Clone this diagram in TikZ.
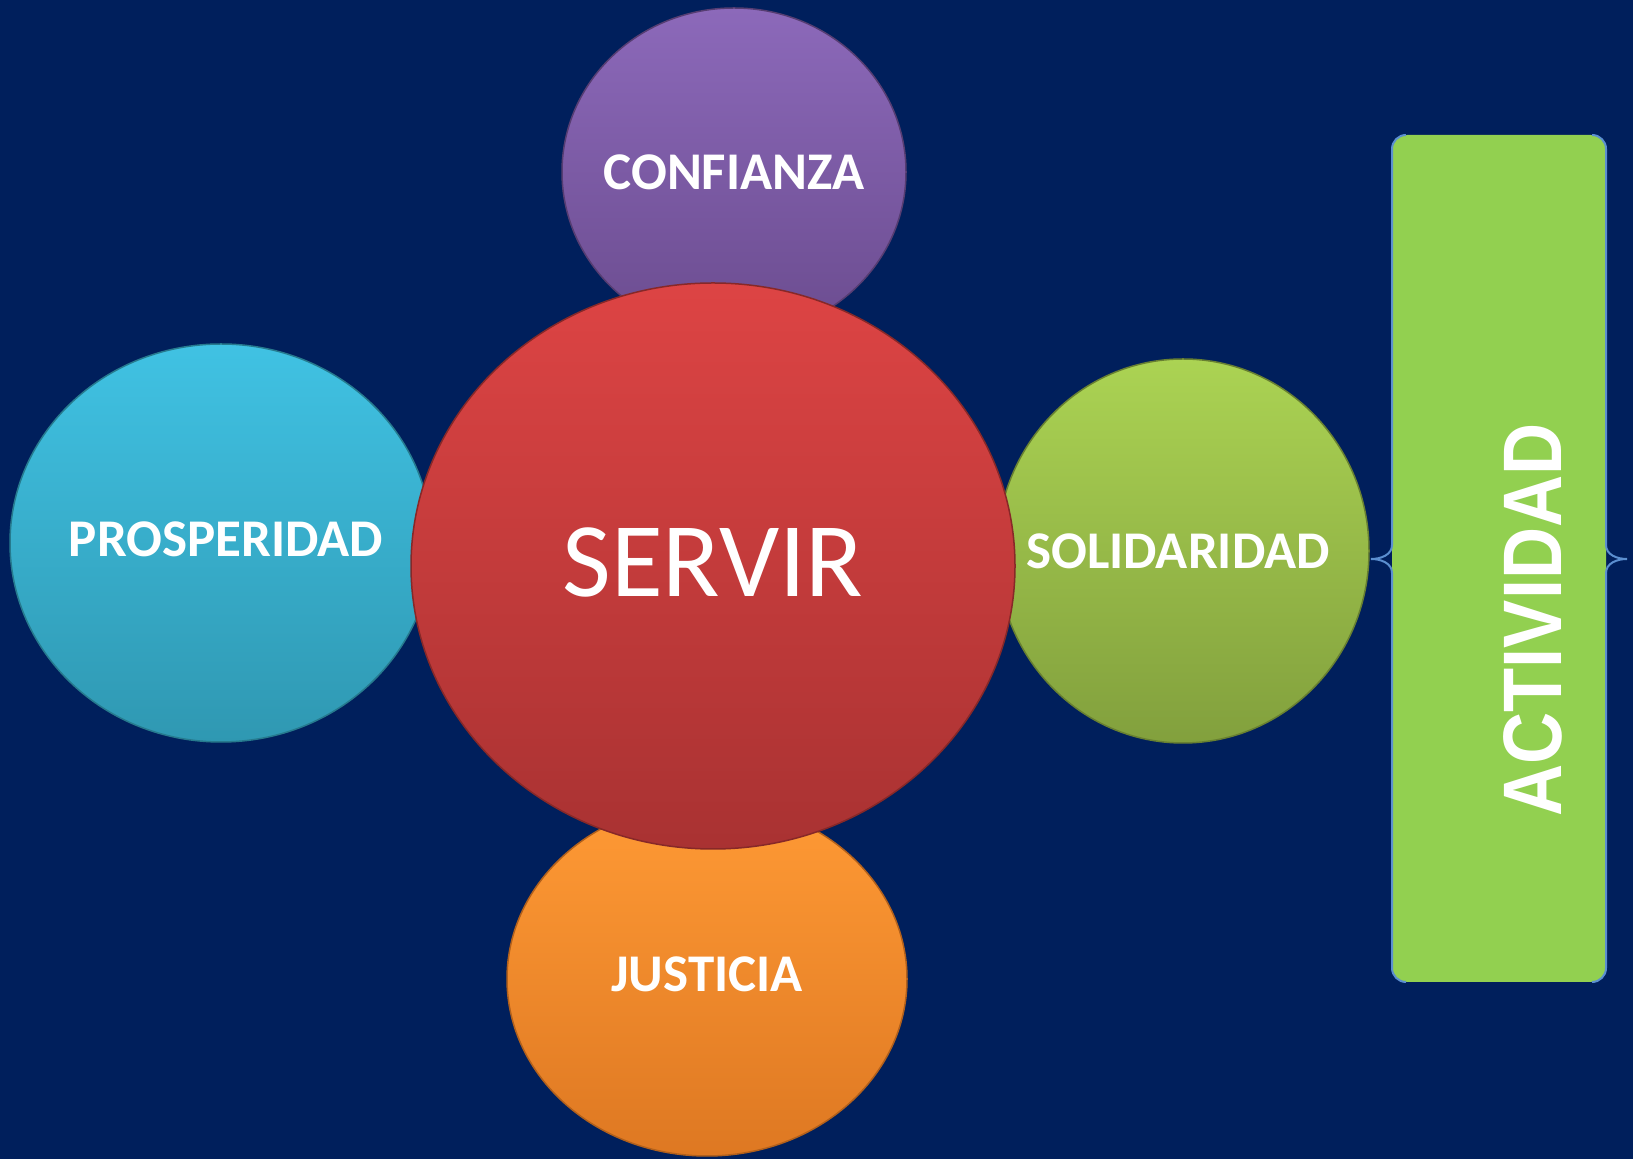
\documentclass[tikz,border=0pt]{standalone}
\usepackage{fontspec}
\usepackage{graphicx}
\setmainfont{Carlito}
\newfontfamily\actfont{Liberation Sans}
\usetikzlibrary{shapes.geometric}
\begin{document}
\begin{tikzpicture}[x=1pt,y=1pt,
 bubble/.style 2 args={ellipse,inner sep=0pt,top color=#1,bottom color=#2,draw=#2!80!black,line width=1.5pt},
 bubbletext/.style={text=white,font=\fontsize{53}{60}\selectfont\bfseries}]
 \definecolor{bgblue}{HTML}{001F5C}
 \definecolor{purpt}{HTML}{8C69BA}
 \definecolor{purpb}{HTML}{6B4C8F}
 \definecolor{redt}{HTML}{DD4444}
 \definecolor{redb}{HTML}{A93232}
 \definecolor{cyant}{HTML}{40C2E3}
 \definecolor{cyanb}{HTML}{2F98B2}
 \definecolor{greent}{HTML}{ABD353}
 \definecolor{greenb}{HTML}{82A03D}
 \definecolor{oranget}{HTML}{FF9A35}
 \definecolor{orangeb}{HTML}{DE7822}
 \definecolor{actgreen}{HTML}{92D050}
 \definecolor{bracecol}{HTML}{5B8FD0}
 \fill [bgblue] (0,0) rectangle (1633,1159);
 \useasboundingbox (0,0) rectangle (1633,1159);
 \node [bubble={purpt}{purpb},minimum width=344,minimum height=328,label={[bubbletext]center:CONFIANZA}] (conf) at (734,987) {};
 \node [bubble={oranget}{orangeb},minimum width=400,minimum height=354,label={[bubbletext,yshift=5]center:JUSTICIA}] (just) at (707,180) {};
 \node [bubble={cyant}{cyanb},minimum width=422,minimum height=398,label={[bubbletext,xshift=5,yshift=4]center:PROSPERIDAD}] (pros) at (221,616) {};
 \node [bubble={greent}{greenb},minimum width=372,minimum height=384,label={[bubbletext,xshift=-5]center:SOLIDARIDAD}] (soli) at (1183,608) {};
 \node [bubble={redt}{redb},minimum width=604,minimum height=566,label={[text=white,font=\fontsize{106}{120}\selectfont,yshift=4]center:SERVIR}] (serv) at (713,593) {};
 \node [fill=actgreen,rounded corners=15,minimum width=214,minimum height=847,inner sep=0pt] (actbox) at (1499,600.5) {};
 \node [rotate=90,text=white,font=\actfont\bfseries\fontsize{83}{90}\selectfont] (acttext) at (1533,539) {\scalebox{0.87}[1]{ACTIVIDAD}};
 \draw [bracecol,line width=2pt] (1406,1024) to[out=180,in=90] (1392,1010) -- (1392,614) to[out=270,in=0] (1371,600)
  to[out=0,in=90] (1392,586) -- (1392,191) to[out=270,in=180] (1406,177);
 \draw [bracecol,line width=2pt] (1592,1024) to[out=0,in=90] (1606,1010) -- (1606,614) to[out=270,in=180] (1627,600)
  to[out=180,in=90] (1606,586) -- (1606,191) to[out=270,in=0] (1592,177);
\end{tikzpicture}
\end{document}
